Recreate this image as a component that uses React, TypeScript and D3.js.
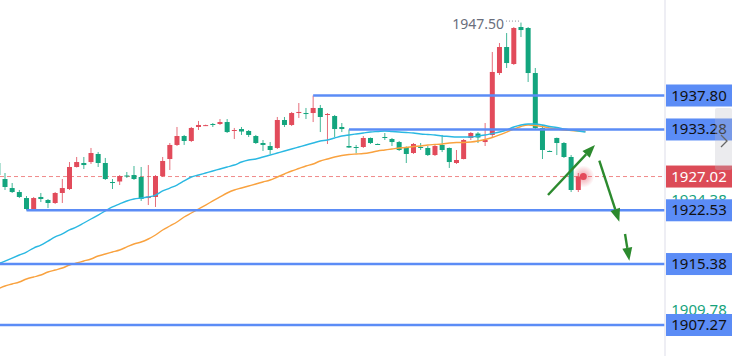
import React from "react";
import * as d3 from "d3";

// candle data, first candle index = -1 (partly off-screen)
const firstIndex = -1;
const opens = [1928.82,1926.69,1925.49,1924.96,1924.16,1922.70,1924.30,1923.90,1923.50,1924.83,1925.36,1928.29,1928.82,1928.95,1930.02,1928.82,1926.29,1926.36,1927.16,1927.22,1926.96,1924.16,1924.30,1927.09,1929.35,1931.22,1932.41,1931.75,1933.61,1933.80,1934.01,1934.01,1934.27,1933.08,1933.34,1933.08,1932.41,1931.48,1931.08,1930.82,1934.54,1933.88,1935.47,1935.47,1935.47,1936.14,1935.21,1935.07,1933.61,1931.08,1930.95,1930.95,1932.15,1931.35,1932.28,1932.01,1931.61,1930.95,1930.15,1930.95,1930.82,1929.88,1931.22,1930.82,1928.82,1929.35,1932.15,1932.74,1931.61,1932.55,1940.79,1944.25,1941.99,1946.91,1946.78,1940.79,1933.48,1930.42,1932.15,1931.48,1929.62,1925.23];
const highs = [1929.22,1927.49,1926.16,1925.23,1924.43,1924.30,1924.83,1924.03,1924.96,1926.69,1928.95,1929.62,1929.62,1930.82,1930.28,1929.49,1926.69,1927.22,1927.62,1928.42,1928.29,1928.55,1927.22,1929.62,1931.48,1933.61,1932.55,1933.61,1934.41,1933.92,1934.14,1934.67,1934.67,1933.48,1933.61,1933.21,1932.55,1931.88,1931.61,1934.94,1934.94,1935.61,1936.80,1936.14,1937.80,1936.54,1935.47,1935.21,1934.14,1933.28,1931.22,1932.41,1932.21,1931.42,1932.81,1932.15,1931.75,1931.02,1931.48,1931.48,1931.08,1931.22,1932.55,1930.88,1930.55,1932.01,1932.94,1932.94,1934.14,1943.59,1944.78,1946.11,1946.91,1947.50,1946.91,1941.46,1933.88,1930.48,1932.20,1931.61,1929.88,1927.49];
const lows = [1926.96,1925.23,1924.83,1924.16,1922.53,1922.57,1923.63,1922.83,1923.37,1923.50,1925.23,1928.22,1928.02,1928.69,1928.29,1926.56,1925.36,1925.89,1926.83,1926.56,1923.77,1923.23,1922.97,1926.96,1927.89,1931.08,1931.22,1931.61,1933.21,1933.74,1933.61,1933.88,1932.81,1932.01,1932.55,1932.28,1931.35,1930.42,1930.02,1930.68,1933.61,1933.74,1934.81,1934.67,1934.27,1932.94,1931.35,1932.28,1932.94,1930.82,1930.15,1930.82,1931.35,1931.22,1931.88,1931.08,1930.42,1928.82,1930.02,1930.55,1929.75,1929.75,1930.28,1928.16,1928.69,1929.30,1931.88,1931.48,1931.08,1932.15,1940.53,1941.46,1941.86,1945.58,1939.60,1933.21,1929.35,1930.28,1929.88,1929.49,1924.96,1924.96];
const closes = [1927.22,1925.63,1924.96,1924.30,1922.70,1924.16,1924.03,1923.50,1924.83,1925.49,1928.29,1928.95,1928.55,1930.15,1928.82,1926.69,1926.16,1927.09,1927.02,1926.69,1924.03,1924.36,1927.09,1929.09,1931.22,1932.41,1931.75,1933.48,1933.88,1933.86,1933.88,1934.27,1932.94,1933.21,1933.01,1932.55,1931.48,1931.22,1930.55,1934.54,1933.88,1935.47,1935.61,1935.34,1936.14,1934.94,1935.34,1933.34,1933.34,1930.88,1930.82,1932.15,1931.48,1931.28,1932.15,1931.61,1930.55,1930.02,1931.35,1930.82,1929.88,1931.08,1930.55,1928.95,1929.22,1931.88,1932.81,1932.21,1931.88,1940.93,1944.25,1942.12,1946.78,1946.51,1940.79,1933.48,1930.55,1930.35,1931.48,1929.62,1925.23,1927.02];

// moving averages, index -1 .. 81
const maFast = [1915.38,1915.78,1916.18,1916.58,1916.98,1917.51,1917.91,1918.44,1918.98,1919.38,1919.91,1920.31,1920.84,1921.37,1921.90,1922.44,1922.97,1923.37,1923.77,1924.03,1924.16,1924.30,1924.56,1925.10,1925.49,1925.89,1926.43,1926.96,1927.22,1927.49,1927.76,1928.02,1928.29,1928.55,1928.95,1929.22,1929.35,1929.62,1929.88,1930.15,1930.42,1930.68,1930.95,1931.22,1931.48,1931.75,1931.88,1932.15,1932.41,1932.55,1932.68,1932.81,1932.94,1933.01,1933.08,1933.01,1932.94,1932.88,1932.81,1932.68,1932.61,1932.55,1932.41,1932.35,1932.28,1932.28,1932.28,1932.41,1932.55,1932.74,1932.94,1933.21,1933.61,1933.88,1934.01,1934.01,1933.88,1933.68,1933.54,1933.34,1933.21,1933.08,1932.94];
const maSlow = [1912.06,1912.46,1912.72,1912.99,1913.39,1913.66,1913.92,1914.32,1914.59,1914.85,1915.25,1915.52,1915.78,1916.05,1916.45,1916.71,1916.98,1917.25,1917.65,1918.05,1918.31,1918.71,1919.24,1919.91,1920.44,1920.97,1921.64,1922.17,1922.70,1923.23,1923.77,1924.30,1924.83,1925.23,1925.49,1925.76,1926.03,1926.29,1926.56,1926.96,1927.36,1927.76,1928.09,1928.42,1928.69,1929.09,1929.35,1929.62,1929.82,1929.95,1930.02,1930.08,1930.22,1930.42,1930.55,1930.68,1930.82,1930.88,1931.02,1931.08,1931.22,1931.28,1931.35,1931.48,1931.55,1931.55,1931.61,1931.75,1931.95,1932.21,1932.55,1932.94,1933.34,1933.68,1933.88,1933.81,1933.68,1933.48,1933.34,1933.21,1933.14,1933.08,1933.01];

const levels = [1937.80, 1933.28, 1922.53, 1915.38, 1907.27];
const levelStarts = [43, 48, 3, -3, -3];
const lastPrice = 1927.02;
const sidePrices = [1924.38, 1909.78];
const highPrice = 1947.50;
const highIndex = 72;
const dotIndex = 80.7;
// arrows drawn by user: [startIndex, startPrice, endIndex, endPrice]
const arrowLines = [
  [75.77, 1924.56, 82.33, 1931.22],
  [82.93, 1929.13, 85.72, 1921.01],
  [86.52, 1919.38, 87.12, 1915.82],
];

const W = 732;
const H = 356;
const AXIS_X = 665;
const RED = "#e24b5b";
const GREEN = "#13a57e";
const BLUE = "#5b8cf6";
const FONT = "'Noto Sans', 'Open Sans', sans-serif";

export default function App() {
  const x = d3.scaleLinear().domain([0, 80]).range([5, 578.3]);
  const y = d3.scaleLinear().domain([1907.27, 1937.8]).range([325, 95.5]);
  const candles = opens.map((o, k) => ({
    i: k + firstIndex,
    o,
    h: highs[k],
    l: lows[k],
    c: closes[k],
  }));
  const line = d3
    .line<number>()
    .x((_, k) => x(k + firstIndex))
    .y((d) => y(d))
    .curve(d3.curveMonotoneX);
  const bw = 5;

  return (
    <svg
      width={W}
      height={H}
      style={{ position: "absolute", left: 0, top: 0, background: "#fff" }}
      fontFamily={FONT}
    >
      <defs>
        <radialGradient id="glow">
          <stop offset="0%" stopColor="#e24b5b" stopOpacity={0.55} />
          <stop offset="100%" stopColor="#e24b5b" stopOpacity={0} />
        </radialGradient>
        <clipPath id="plot">
          <rect x={0} y={0} width={AXIS_X} height={H} />
        </clipPath>
      </defs>
      <g clipPath="url(#plot)">
        {/* current price dashed line */}
        <line
          x1={0}
          x2={AXIS_X}
          y1={y(lastPrice)}
          y2={y(lastPrice)}
          stroke="#f08a8a"
          strokeWidth={1}
          strokeDasharray="4,3"
        />
        {/* candles */}
        {candles.map((d) => {
          const up = d.c >= d.o;
          const col = up ? RED : GREEN;
          const top = y(Math.max(d.o, d.c));
          const bot = y(Math.min(d.o, d.c));
          return (
            <g key={d.i}>
              <line
                x1={x(d.i)}
                x2={x(d.i)}
                y1={y(d.h)}
                y2={y(d.l)}
                stroke={col}
                strokeWidth={1}
                opacity={0.8}
              />
              <rect
                x={x(d.i) - bw / 2}
                y={top}
                width={bw}
                height={Math.max(1, bot - top)}
                fill={col}
              />
            </g>
          );
        })}
        {/* moving averages */}
        <path d={line(maSlow) || ""} fill="none" stroke="#f9a23f" strokeWidth={1.4} />
        <path d={line(maFast) || ""} fill="none" stroke="#2ab8e2" strokeWidth={1.4} />
        {/* horizontal levels */}
        {levels.map((lv, k) => (
          <line
            key={lv}
            x1={Math.max(0, x(levelStarts[k]))}
            x2={AXIS_X}
            y1={y(lv)}
            y2={y(lv)}
            stroke={BLUE}
            strokeWidth={2.5}
          />
        ))}
        {/* high marker */}
        <line
          x1={x(highIndex) - 15}
          x2={x(highIndex) - 1}
          y1={y(highPrice) - 1.5}
          y2={y(highPrice) - 1.5}
          stroke="#8a8f9c"
          strokeWidth={1}
          strokeDasharray="1,2"
        />
        <text
          x={x(highIndex) - 17}
          y={y(highPrice) + 3}
          textAnchor="end"
          dominantBaseline="middle"
          fontSize={14}
          fill="#6a6e7c"
        >
          {highPrice.toFixed(2)}
        </text>
        {/* arrows */}
        {arrowLines.map((a, k) => {
          const x1 = x(a[0]);
          const y1 = y(a[1]);
          const x2 = x(a[2]);
          const y2 = y(a[3]);
          const ang = Math.atan2(y2 - y1, x2 - x1);
          const len = 13;
          const half = 5;
          const bx = x2 - len * Math.cos(ang);
          const by = y2 - len * Math.sin(ang);
          const px = -Math.sin(ang) * half;
          const py = Math.cos(ang) * half;
          return (
            <g key={k}>
              <line x1={x1} y1={y1} x2={bx} y2={by} stroke="#2c8a2e" strokeWidth={2.4} />
              <path
                d={`M${x2},${y2}L${bx + px},${by + py}L${bx - px},${by - py}Z`}
                fill="#2c8a2e"
              />
            </g>
          );
        })}
        {/* live price dot */}
        <circle cx={x(dotIndex)} cy={y(lastPrice)} r={11} fill="url(#glow)" />
        <circle cx={x(dotIndex)} cy={y(lastPrice)} r={3.5} fill="#e44a5a" />
      </g>
      {/* price axis */}
      <line x1={AXIS_X} x2={AXIS_X} y1={0} y2={H} stroke="#e8e8f0" strokeWidth={1.5} />
      {sidePrices.map((p) => (
        <text
          key={p}
          x={699}
          y={y(p) + 5}
          textAnchor="middle"
          dominantBaseline="middle"
          fontSize={15}
          fill="#16a37c"
        >
          {p.toFixed(2)}
        </text>
      ))}
      {levels.map((lv) => (
        <g key={lv}>
          <rect x={AXIS_X + 1} y={y(lv) - 11} width={W - AXIS_X} height={22} fill={BLUE} />
          <text
            x={699}
            y={y(lv) + 1}
            textAnchor="middle"
            dominantBaseline="middle"
            fontSize={15}
            fill="#111"
          >
            {lv.toFixed(2)}
          </text>
        </g>
      ))}
      <rect x={AXIS_X + 1} y={y(lastPrice) - 11} width={W - AXIS_X} height={22} fill="#dc4b57" />
      <text
        x={699}
        y={y(lastPrice) + 1}
        textAnchor="middle"
        dominantBaseline="middle"
        fontSize={15}
        fill="#fff"
      >
        {lastPrice.toFixed(2)}
      </text>
      {/* side collapse tab */}
      <rect x={715} y={108} width={17} height={62} fill="rgba(190,190,200,0.3)" rx={2} />
      <path d="M721,135L727,141L721,147" fill="none" stroke="#666" strokeWidth={1.3} />
    </svg>
  );
}
